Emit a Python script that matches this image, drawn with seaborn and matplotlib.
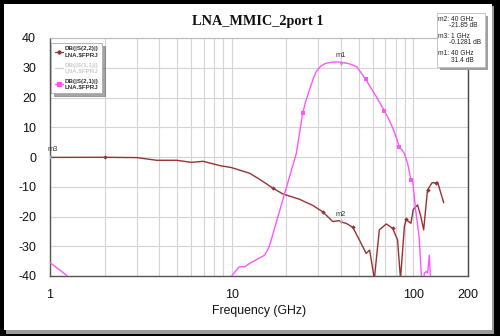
import numpy as np
import pandas as pd
import matplotlib
matplotlib.use("Agg")
import matplotlib.pyplot as plt
import seaborn as sns
from matplotlib.patches import Rectangle
from matplotlib.lines import Line2D

# ---- data ----
s22_freq = [1, 2, 3, 3.86, 4.97, 6.0, 6.96, 8.77, 9.9, 12.6, 14.5, 16.9, 19.1, 23.6, 28, 31.7, 36, 39, 40,
            42.7, 46.4, 50.5, 55, 57.5, 61, 65, 71, 77, 81.9, 85, 89.3, 91.2, 97, 100, 105.6, 110,
            114, 119.7, 127, 134, 136, 147]
s22_db = [-0.13, -0.1, -0.2, -1.1, -1.1, -1.8, -1.45, -3.0, -3.5, -5.5, -7.8, -10.5, -12.4, -14.2, -16.3, -18.4,
          -21.7, -21.4, -21.85, -22.3, -23.6, -27.9, -32.4, -31.3, -41.0, -24.5, -22.5, -24.0, -27.9, -41.0,
          -23.4, -21.0, -22.3, -17.6, -16.1, -20.0, -24.5, -11.1, -8.6, -8.8, -8.4, -15.4]
s22_mark_freq = [2, 16.9, 31.7, 46.4, 77, 91.2, 119.7, 134]
s22_mark_db = [-0.1, -10.5, -18.4, -23.6, -24.0, -21.0, -11.1, -8.8]

s21_freq = [1, 1.23, 1.35, 9.5, 10, 11.0, 11.8, 12.6, 15.2, 16.1, 16.5, 19.1, 22.7, 24.6, 25.6, 26.8, 28,
            29.2, 31, 33, 36, 39.6, 44, 48.7, 54.6, 62.5, 69.4, 73.7, 78.6, 83.7, 89.3, 93, 97, 99, 103,
            107.6, 112, 115, 118, 120, 122.5, 124, 126]
s21_db = [-35.5, -39.7, -45, -45, -40, -36.9, -36.9, -35.7, -33.0, -30.1, -27.9, -14.5, 1.2, 14.7, 18.8, 22.5,
          26.0, 28.7, 30.6, 31.5, 31.9, 31.9, 31.4, 30.4, 26.2, 20.3, 15.5, 12.4, 8.5, 3.5, 1.2, -2.1, -7.7,
          -7.5, -17.8, -26.8, -45, -39.0, -38.5, -39.0, -33.0, -39.5, -45]
s21_mark_freq = [24.6, 54.6, 69.4, 83.7, 97]
s21_mark_db = [14.7, 26.2, 15.5, 3.5, -7.7]

marker_names = ["m1", "m2", "m3"]
marker_freq = [40, 40, 1]
marker_db = [31.4, -21.85, -0.1281]

legend_labels = ["DB(|S(2,2)|)\nLNA.\\$FPRJ", "DB(|S(1,1)|)\nLNA.\\$FPRJ", "DB(|S(2,1)|)\nLNA.\\$FPRJ"]
y_ticks = [-40, -30, -20, -10, 0, 10, 20, 30, 40]
x_ticks = [1, 10, 100, 200]
x_minor = [2, 3, 4, 5, 6, 7, 8, 9, 20, 30, 40, 50, 60, 70, 80, 90]

# ---- figure ----
sns.set_theme(style="white")
plt.rcParams['font.family'] = ['Liberation Sans', 'DejaVu Sans']

W, H = 500, 336
fig = plt.figure(figsize=(5, 3.36), dpi=100, facecolor="black")

def fx(px):
    return px / W

def fy(py):
    return 1 - py / H

# frame: shadow + white panel
fig.patches.append(Rectangle((fx(6), fy(333.5)), (494 - 6) / W, (333.5 - 6) / H,
                             transform=fig.transFigure, facecolor="#9a9a9a", edgecolor="none", zorder=-3))
fig.patches.append(Rectangle((fx(3.5), fy(330)), (491.5 - 3.5) / W, (330 - 3.5) / H,
                             transform=fig.transFigure, facecolor="white", edgecolor="none", zorder=-2))

ax = fig.add_axes([fx(50), fy(276), (468 - 50) / W, (276 - 38) / H])
ax.set_facecolor("white")

c22 = "#973232"
c21 = "#ff55ff"
c11 = "#cfcfcf"

df22 = pd.DataFrame({"f": s22_freq, "db": s22_db})
df21 = pd.DataFrame({"f": s21_freq, "db": s21_db})
sns.lineplot(data=df22, x="f", y="db", color=c22, lw=1.0, ax=ax, estimator=None, sort=False, zorder=3)
sns.lineplot(data=df21, x="f", y="db", color=c21, lw=1.0, ax=ax, estimator=None, sort=False, zorder=3)
sns.scatterplot(x=s22_mark_freq, y=s22_mark_db, color=c22, marker="D", s=5, linewidth=0, ax=ax, zorder=4)
sns.scatterplot(x=s21_mark_freq, y=s21_mark_db, color=c21, marker="s", s=10, linewidth=0, ax=ax, zorder=4)
sns.scatterplot(x=marker_freq, y=marker_db, color="#b0a0b0", marker="v", s=8, linewidth=0, ax=ax, zorder=5)

for name, f, d in zip(marker_names, marker_freq, marker_db):
    if name == "m3":
        ax.annotate(name, (f, d), xytext=(2, 3), textcoords="offset points", fontsize=5.4,
                    ha="center", va="bottom", color="#333333", annotation_clip=False)
    else:
        ax.annotate(name, (f, d), xytext=(0, 3), textcoords="offset points", fontsize=5.4,
                    ha="center", va="bottom", color="#333333")

ax.set_xscale("log")
ax.set_xlim(1, 200)
ax.set_ylim(-40, 40)
ax.set_xticks(x_ticks)
ax.set_xticklabels([str(t) for t in x_ticks])
ax.set_xticks(x_minor, minor=True)
ax.xaxis.set_minor_formatter(matplotlib.ticker.NullFormatter())
ax.set_yticks(y_ticks)
ax.set_yticklabels([str(t) for t in y_ticks])
ax.tick_params(axis="both", which="both", length=0, labelsize=9, colors="#111111")
ax.tick_params(axis="y", pad=10)
ax.tick_params(axis="x", pad=9.5)
ax.grid(True, which="both", color="#d4d4d4", lw=0.8)
ax.set_axisbelow(True)
ax.set_xlabel("Frequency (GHz)", fontsize=8.8, labelpad=3, color="#111111")
ax.set_ylabel("")

for side in ["left", "bottom"]:
    ax.spines[side].set_color("#555555")
    ax.spines[side].set_linewidth(1.0)
ax.spines["right"].set_color("#444444")
ax.spines["right"].set_linewidth(1.0)
ax.spines["top"].set_color("#bbbbbb")
ax.spines["top"].set_linewidth(0.8)

fig.text(fx(258), fy(22), "LNA_MMIC_2port 1", ha="center", va="center",
         fontsize=10.3, fontweight="bold", family=["Liberation Serif", "DejaVu Serif"], color="#111111")

# legend
handles = [Line2D([], [], color=c22, lw=0.9, marker="D", markersize=1.8),
           Line2D([], [], color=c11, lw=0.9),
           Line2D([], [], color=c21, lw=0.9, marker="s", markersize=2.5)]
leg = ax.legend(handles, legend_labels, loc="upper left", bbox_to_anchor=(-0.003, 0.99),
                fontsize=4.5, frameon=True, fancybox=False, shadow=True, handlelength=1.3,
                handletextpad=0.3, labelspacing=0.9, borderpad=0.55, borderaxespad=0.4)
leg.get_frame().set_edgecolor("#aaaaaa")
leg.get_frame().set_linewidth(0.6)
for i, t in enumerate(leg.get_texts()):
    t.set_fontweight("bold")
    t.set_color("#cccccc" if i == 1 else "#333333")

# marker readout box
fig.patches.append(Rectangle((fx(440), fy(70)), 48 / W, 54 / H, transform=fig.transFigure,
                             facecolor="#a0a0a0", edgecolor="none", zorder=5))
fig.patches.append(Rectangle((fx(437), fy(67)), 48 / W, 54 / H, transform=fig.transFigure,
                             facecolor="white", edgecolor="#bbbbbb", lw=0.6, zorder=6))
box_lines = [("m2: 40 GHz", 438.5, 19.5), ("-21.85 dB", 449, 25.5),
             ("m3: 1 GHz", 438.5, 36), ("-0.1281 dB", 449, 42.5),
             ("m1: 40 GHz", 438.5, 53.5), ("31.4 dB", 451, 60.5)]
for s, x, y in box_lines:
    fig.text(fx(x), fy(y), s, fontsize=4.8, ha="left", va="center", color="#222222", zorder=7)

fig.savefig("out.png", dpi=100, facecolor=fig.get_facecolor())
